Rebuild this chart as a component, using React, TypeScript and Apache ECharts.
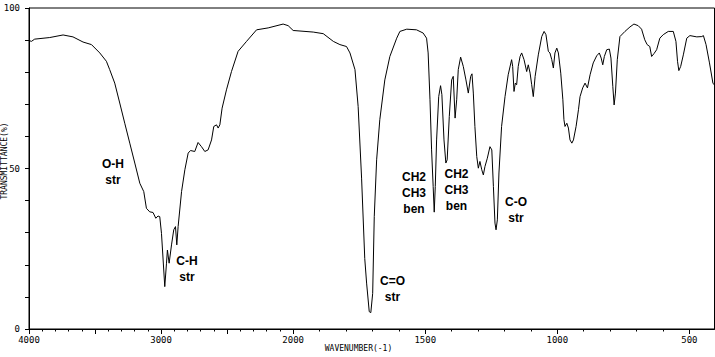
import React, { useEffect, useRef } from "react";
import * as echarts from "echarts";

// IR spectrum: wavenumber (cm-1) and transmittance (%)
const WAVENUMBER = [
  4000, 3982, 3957, 3843, 3742, 3667, 3591, 3527, 3464, 3414, 3389, 3351, 3313, 3275, 3237, 3199,
  3161, 3131, 3111, 3086, 3061, 3040, 3023, 3010, 2997, 2972, 2959, 2952, 2939, 2921, 2904, 2891,
  2881, 2871, 2845, 2820, 2795, 2777, 2745, 2720, 2694, 2669, 2644, 2618, 2601, 2580, 2568, 2555,
  2538, 2505, 2467, 2417, 2353, 2277, 2189, 2076, 2038, 2000, 1924, 1886, 1848, 1823, 1798, 1785,
  1766, 1754, 1741, 1729, 1722, 1712, 1706, 1699, 1693, 1684, 1672, 1653, 1634, 1608, 1596, 1570,
  1533, 1508, 1495, 1489, 1482, 1476, 1470, 1466, 1462, 1457, 1449, 1442, 1437, 1429, 1422, 1417,
  1409, 1400, 1394, 1387, 1381, 1375, 1366, 1356, 1346, 1337, 1328, 1323, 1318, 1312, 1305, 1299,
  1293, 1286, 1280, 1274, 1265, 1255, 1248, 1242, 1236, 1232, 1227, 1221, 1211, 1198, 1186, 1173,
  1169, 1164, 1159, 1154, 1148, 1141, 1135, 1126, 1116, 1110, 1103, 1097, 1091, 1084, 1072, 1059,
  1050, 1043, 1034, 1028, 1021, 1015, 1009, 1002, 996, 987, 979, 975, 971, 964, 958, 952,
  945, 939, 929, 920, 914, 904, 895, 886, 876, 864, 851, 841, 834, 828, 822, 813,
  803, 797, 790, 785, 780, 773, 763, 744, 725, 710, 694, 681, 669, 660, 650, 643,
  634, 624, 612, 599, 580, 561, 551, 545, 540, 533, 523, 510, 498, 472, 453, 447,
  437, 424, 411, 405,
];

const TRANSMITTANCE = [
  89.9, 89.6, 90.3, 90.8, 91.6, 91.0, 89.4, 88.6, 86.0, 83.4, 80.8, 76.6, 70.4, 64.1, 57.9, 51.7,
  45.4, 42.8, 37.6, 36.5, 36.3, 34.5, 35.2, 35.0, 29.8, 13.2, 20.5, 24.6, 20.5, 26.2, 30.9, 31.9,
  26.2, 31.9, 42.8, 49.6, 54.8, 55.6, 55.3, 58.1, 56.8, 55.3, 55.8, 58.9, 63.1, 63.6, 62.6, 63.6,
  68.8, 74.5, 80.2, 86.5, 89.6, 93.2, 93.8, 95.0, 94.5, 93.0, 92.5, 92.0, 89.6, 88.6, 88.0, 86.0,
  80.8, 69.3, 47.0, 22.0, 14.3, 5.4, 5.1, 11.1, 35.0, 52.7, 65.2, 77.6, 84.9, 90.6, 92.7, 93.4,
  93.2, 92.2, 90.6, 86.0, 71.4, 55.8, 44.4, 36.4, 44.4, 58.9, 72.4, 75.8, 73.0, 58.9, 51.7, 52.7,
  66.2, 77.6, 78.7, 65.7, 71.4, 80.8, 84.7, 81.8, 77.6, 73.5, 78.7, 79.5, 73.5, 63.1, 53.7, 50.1,
  52.2, 49.6, 48.0, 50.6, 53.2, 56.8, 55.8, 44.4, 33.0, 30.9, 34.0, 48.6, 63.1, 72.4, 79.2, 83.9,
  81.8, 74.0, 76.6, 76.1, 81.8, 84.9, 86.0, 83.9, 80.2, 82.3, 79.7, 76.1, 72.4, 78.7, 85.4, 91.1,
  92.7, 91.7, 86.5, 86.0, 83.9, 81.3, 86.0, 87.5, 86.0, 79.7, 71.4, 65.2, 63.1, 64.1, 62.6, 58.9,
  57.9, 58.9, 63.1, 68.3, 72.4, 75.1, 76.6, 75.1, 79.2, 82.9, 85.1, 86.0, 84.4, 82.3, 84.9, 87.0,
  87.2, 84.4, 75.6, 69.8, 73.5, 83.9, 91.1, 92.7, 94.1, 95.0, 94.5, 93.4, 90.1, 88.6, 88.0, 84.9,
  85.8, 87.0, 90.6, 91.7, 92.7, 92.7, 89.6, 83.4, 80.5, 81.8, 85.4, 90.6, 91.4, 91.0, 91.1, 91.4,
  88.6, 82.9, 76.6, 76.0,
];

const X_LABELS = [4000, 3000, 2000, 1500, 1000, 500];
const X_MAJOR_TICKS = [4000, 3500, 3000, 2500, 2000, 1500, 1000, 500];
const Y_LABELS = [0, 50, 100];

const PEAK_LABELS = ["O-H\nstr", "C-H\nstr", "C=O\nstr", "CH2\nCH3\nben", "CH2\nCH3\nben", "C-O\nstr"];

// Axis is linear in cm-1 above 2000 and at double scale below 2000.
const toU = (w: number) => (w >= 2000 ? 4000 - w : 2000 + 2 * (2000 - w));
const fromU = (u: number) => (u <= 2000 ? 4000 - u : 2000 - (u - 2000) / 2);

const minorTicks: number[] = [];
for (let w = 4000; w >= 2000; w -= 100) minorTicks.push(toU(w));
for (let w = 1900; w >= 500; w -= 100) minorTicks.push(toU(w));

export default function App() {
  const ref = useRef<HTMLDivElement>(null);
  useEffect(() => {
    document.body.style.margin = "0";
    if (!ref.current) return;
    const chart = echarts.init(ref.current, undefined, { renderer: "svg" });
    const mono = "DejaVu Sans Mono";
    const labelPos = [
      [113, 171.5],
      [187, 268.5],
      [392.5, 289],
      [414, 193],
      [456.5, 189.5],
      [516, 209.5],
    ];
    chart.setOption({
      animation: false,
      backgroundColor: "#fff",
      grid: {
        left: 29,
        top: 8,
        width: 685.5,
        height: 321,
        show: true,
        borderColor: "#000",
        borderWidth: 1,
        backgroundColor: "transparent",
      },
      xAxis: [
        {
          type: "value",
          min: 0,
          max: toU(405),
          position: "bottom",
          axisLine: { show: true, lineStyle: { color: "#000", width: 1 } },
          axisTick: {
            show: true,
            length: 5,
            inside: false,
            customValues: X_MAJOR_TICKS.map(toU),
            lineStyle: { color: "#000" },
          },
          axisLabel: {
            customValues: X_LABELS.map(toU),
            formatter: (v: number) => String(Math.round(fromU(v))),
            fontFamily: mono,
            fontSize: 9,
            color: "#000",
            margin: 6,
          },
          splitLine: { show: false },
        },
        {
          type: "value",
          min: 0,
          max: toU(405),
          position: "bottom",
          offset: 0,
          axisLine: { show: false },
          axisTick: {
            show: true,
            length: 2.5,
            customValues: minorTicks,
            lineStyle: { color: "#000" },
          },
          axisLabel: { show: false },
          splitLine: { show: false },
        },
      ],
      yAxis: {
        type: "value",
        min: 0,
        max: 100,
        interval: 10,
        axisLine: { show: true, lineStyle: { color: "#000", width: 1 } },
        axisTick: { show: true, length: 4, lineStyle: { color: "#000" } },
        axisLabel: {
          formatter: (v: number) => (Y_LABELS.includes(v) ? String(v) : ""),
          fontFamily: mono,
          fontSize: 9,
          color: "#000",
          margin: 9,
        },
        splitLine: { show: false },
      },
      series: [
        {
          type: "line",
          xAxisIndex: 0,
          data: WAVENUMBER.map((w, i) => [toU(w), TRANSMITTANCE[i]]),
          symbol: "none",
          lineStyle: { color: "#000", width: 1 },
          silent: true,
        },
      ],
      graphic: [
        {
          type: "text",
          x: 358.5,
          y: 348,
          style: {
            text: "WAVENUMBER(-1)",
            fontFamily: mono,
            fontSize: 8,
            fill: "#000",
            align: "center",
            verticalAlign: "middle",
          },
        },
        {
          type: "text",
          x: 4,
          y: 161,
          rotation: Math.PI / 2,
          style: {
            text: "TRANSMITTANCE(%)",
            fontFamily: mono,
            fontSize: 8,
            fill: "#000",
            align: "center",
            verticalAlign: "middle",
          },
        },
        ...PEAK_LABELS.map((t, i) => ({
          type: "text",
          x: labelPos[i][0],
          y: labelPos[i][1],
          style: {
            text: t,
            fontFamily: "Liberation Sans",
            fontWeight: "bold",
            fontSize: 12,
            lineHeight: 16,
            fill: "#000",
            align: "center",
            verticalAlign: "middle",
          },
        })),
      ],
    });
    return () => chart.dispose();
  }, []);
  return <div ref={ref} style={{ width: 715, height: 357 }} />;
}
